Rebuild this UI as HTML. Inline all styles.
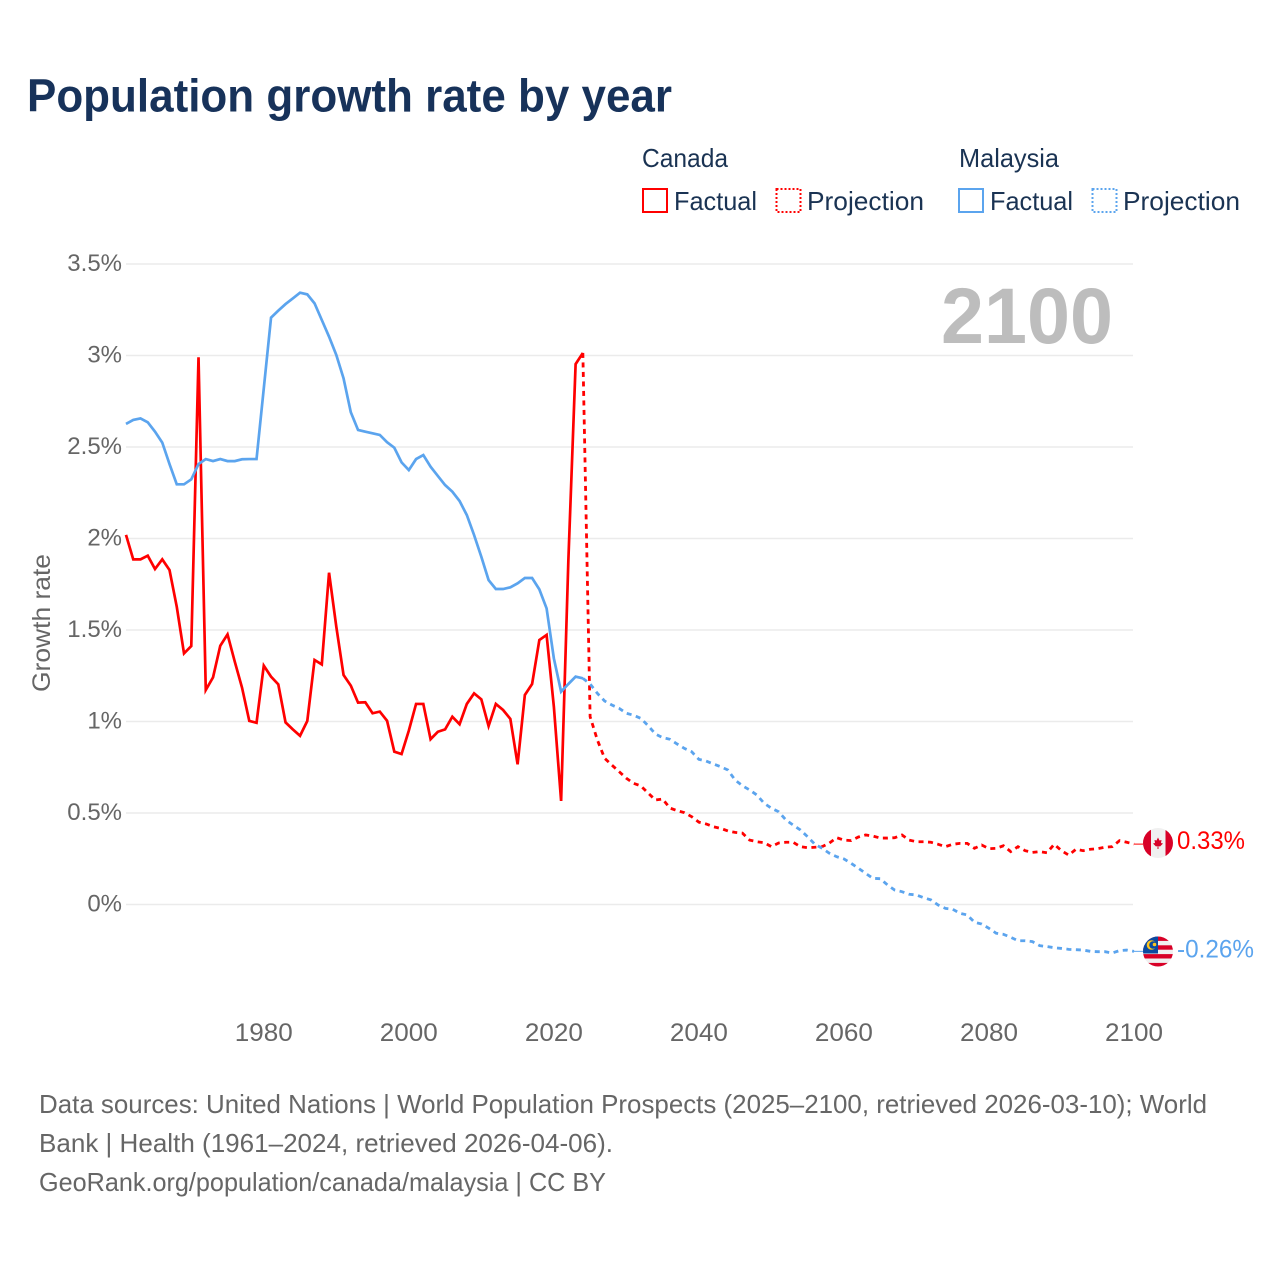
<!DOCTYPE html>
<html lang="en">
<head>
<meta charset="utf-8">
<title>Population growth rate by year</title>
<style>
html,body{margin:0;padding:0;background:#fff;}
svg{display:block;}
text{font-family:"Liberation Sans",sans-serif;}
</style>
</head>
<body>
<svg id="chart" width="1280" height="1280" viewBox="0 0 1280 1280" xmlns="http://www.w3.org/2000/svg">
<defs>
<clipPath id="flag-clip-ca"><circle cx="1158" cy="843" r="15"/></clipPath>
<clipPath id="flag-clip-my"><circle cx="1158" cy="951.500" r="15"/></clipPath>
</defs>
<rect width="1280" height="1280" fill="#fff"/>
<text x="27" y="111.500" font-size="46" font-weight="700" fill="#17325a" textLength="645" lengthAdjust="spacingAndGlyphs">Population growth rate by year</text>

<g font-size="26" fill="#1a3353">
<text x="642" y="167" textLength="86" lengthAdjust="spacingAndGlyphs">Canada</text>
<text x="959" y="167" textLength="100" lengthAdjust="spacingAndGlyphs">Malaysia</text>
<rect x="643" y="189" width="24" height="23" fill="none" stroke="#ff0000" stroke-width="2"/>
<text x="674" y="210" textLength="83" lengthAdjust="spacingAndGlyphs">Factual</text>
<rect x="776.500" y="189" width="24" height="23" fill="none" stroke="#ff0000" stroke-width="2" stroke-dasharray="2 2"/>
<text x="807" y="210" textLength="117" lengthAdjust="spacingAndGlyphs">Projection</text>
<rect x="959" y="189" width="24" height="23" fill="none" stroke="#5ba4ee" stroke-width="2"/>
<text x="990" y="210" textLength="83" lengthAdjust="spacingAndGlyphs">Factual</text>
<rect x="1092.500" y="189" width="24" height="23" fill="none" stroke="#5ba4ee" stroke-width="2" stroke-dasharray="2 2"/>
<text x="1123" y="210" textLength="117" lengthAdjust="spacingAndGlyphs">Projection</text>
</g>

<g id="grid"></g>
<g id="y-ticks"></g>
<g id="x-ticks"></g>
<text x="941" y="343" font-size="79" font-weight="700" fill="#bdbdbd" textLength="172" lengthAdjust="spacingAndGlyphs">2100</text>
<text transform="translate(50 692) rotate(-90)" font-size="25" fill="#666" textLength="138" lengthAdjust="spacingAndGlyphs">Growth rate</text>
<g id="series"></g>

<g clip-path="url(#flag-clip-ca)">
<rect x="1143" y="828" width="30" height="30" fill="#f0f0f0"/>
<rect x="1143" y="828" width="8" height="30" fill="#d80027"/>
<rect x="1165.500" y="828" width="8" height="30" fill="#d80027"/>
<polygon points="1158,837.500 1159.500,840.500 1161.500,840 1161,843 1163,843.500 1160,846.500 1158.500,846 1158.500,849 1157.500,849 1157.500,846 1156,846.500 1153,843.500 1155,843 1154.500,840 1156.500,840.500" fill="#d80027"/>
</g>
<g clip-path="url(#flag-clip-my)">
<rect x="1143" y="936.500" width="30" height="31" fill="#f0f0f0"/>
<rect x="1143" y="936.500" width="30" height="4.400" fill="#d80027"/>
<rect x="1143" y="945.300" width="30" height="4.400" fill="#d80027"/>
<rect x="1143" y="954.100" width="30" height="4.400" fill="#d80027"/>
<rect x="1143" y="962.900" width="30" height="4.600" fill="#d80027"/>
<rect x="1143" y="936.500" width="15" height="17" fill="#0a4aa0"/>
<circle cx="1151.500" cy="945" r="4.800" fill="#ffc61e"/>
<circle cx="1153" cy="945" r="3.800" fill="#0a4aa0"/>
<circle cx="1154.500" cy="944.500" r="1.800" fill="#ffc61e"/>
</g>
<g id="end-labels"></g>

<g font-size="26" fill="#666">
<text x="39" y="1113" textLength="1168" lengthAdjust="spacingAndGlyphs">Data sources: United Nations | World Population Prospects (2025–2100, retrieved 2026-03-10); World</text>
<text x="39" y="1152" textLength="574" lengthAdjust="spacingAndGlyphs">Bank | Health (1961–2024, retrieved 2026-04-06).</text>
<text x="39" y="1191" textLength="567" lengthAdjust="spacingAndGlyphs">GeoRank.org/population/canada/malaysia | CC BY</text>
</g>
</svg>
<script>
const factualStartYear = 1961;
const projectionStartYear = 2024;
const xTickYears = [1980, 2000, 2020, 2040, 2060, 2080, 2100];
const yTickValues = [0, 0.5, 1, 1.5, 2, 2.5, 3, 3.5];
const yTickLabels = ['0%', '0.5%', '1%', '1.5%', '2%', '2.5%', '3%', '3.5%'];
const endLabels = ['0.33%', '-0.26%'];

const canadaFactual = [2.02,1.886,1.886,1.906,1.833,1.886,1.828,1.627,1.372,1.412,2.99,1.172,1.241,1.414,1.476,1.327,1.185,1.003,0.993,1.305,1.245,1.203,0.995,0.957,0.922,1.003,1.336,1.312,1.813,1.518,1.254,1.196,1.103,1.105,1.045,1.054,1.004,0.835,0.822,0.95,1.096,1.096,0.903,0.944,0.957,1.026,0.985,1.096,1.154,1.121,0.975,1.096,1.063,1.014,0.766,1.145,1.205,1.445,1.473,1.081,0.566,1.88,2.953,3.014];
const canadaProjection = [3.014,1.026,0.899,0.799,0.762,0.726,0.69,0.662,0.648,0.609,0.571,0.576,0.527,0.513,0.502,0.48,0.45,0.44,0.425,0.416,0.402,0.394,0.39,0.352,0.343,0.338,0.316,0.336,0.34,0.34,0.316,0.31,0.313,0.316,0.336,0.365,0.352,0.349,0.369,0.38,0.374,0.363,0.363,0.365,0.38,0.352,0.343,0.343,0.34,0.329,0.316,0.329,0.334,0.334,0.307,0.325,0.305,0.307,0.321,0.289,0.316,0.294,0.285,0.289,0.283,0.329,0.294,0.27,0.302,0.294,0.302,0.305,0.313,0.316,0.349,0.34,0.33];
const malaysiaFactual = [2.626,2.648,2.656,2.635,2.584,2.524,2.407,2.296,2.296,2.323,2.407,2.434,2.423,2.434,2.423,2.423,2.433,2.434,2.434,2.82,3.207,3.245,3.281,3.312,3.343,3.334,3.285,3.194,3.103,3.003,2.875,2.69,2.593,2.584,2.575,2.566,2.526,2.496,2.416,2.374,2.434,2.456,2.392,2.342,2.292,2.256,2.205,2.128,2.019,1.9,1.773,1.724,1.724,1.733,1.755,1.784,1.784,1.722,1.618,1.345,1.163,1.205,1.245,1.236];
const malaysiaProjection = [1.236,1.205,1.154,1.112,1.09,1.072,1.045,1.034,1.017,0.977,0.932,0.912,0.903,0.877,0.853,0.835,0.793,0.784,0.768,0.753,0.735,0.68,0.649,0.626,0.598,0.553,0.526,0.507,0.462,0.434,0.407,0.37,0.329,0.307,0.28,0.261,0.249,0.225,0.198,0.17,0.143,0.141,0.107,0.079,0.07,0.056,0.052,0.037,0.025,-0.003,-0.021,-0.026,-0.048,-0.057,-0.097,-0.107,-0.13,-0.157,-0.163,-0.179,-0.198,-0.198,-0.203,-0.225,-0.23,-0.236,-0.24,-0.245,-0.247,-0.249,-0.256,-0.258,-0.258,-0.265,-0.252,-0.249,-0.256];

const SVG_NS = 'http://www.w3.org/2000/svg';
const RED = '#ff0000';
const BLUE = '#5ba4ee';

function xScale(year) {
  return 126 + (year - 1961) * (1134 - 126) / (2100 - 1961);
}
function yScale(value) {
  return 904.5 - value * 183;
}
function makeEl(tag, parentId, attrs) {
  const el = document.createElementNS(SVG_NS, tag);
  Object.keys(attrs).forEach(function (k) { el.setAttribute(k, attrs[k]); });
  document.getElementById(parentId).appendChild(el);
  return el;
}
function linePath(startYear, values) {
  return values.map(function (v, i) {
    return (i ? 'L' : 'M') + xScale(startYear + i).toFixed(2) + ' ' + yScale(v).toFixed(2);
  }).join(' ');
}

yTickValues.forEach(function (v, i) {
  const line = makeEl('line', 'grid', {x1: 126, x2: 1133, y1: yScale(v), y2: yScale(v), stroke: '#ebebeb', 'stroke-width': 1.5});
  
  
  const label = makeEl('text', 'y-ticks', {x: 122, y: yScale(v) + 7, 'text-anchor': 'end', 'font-size': 24, fill: '#666'});
  
  
  label.textContent = yTickLabels[i];
});

xTickYears.forEach(function (year) {
  const label = makeEl('text', 'x-ticks', {x: xScale(year), y: 1041, 'text-anchor': 'middle', 'font-size': 25, fill: '#666', textLength: 58, lengthAdjust: 'spacingAndGlyphs'});
  
  
  label.textContent = year;
});

const canadaProjectionLine = makeEl('path', 'series', {d: linePath(projectionStartYear, canadaProjection), fill: 'none', stroke: RED, 'stroke-width': 2.8, 'stroke-dasharray': '5 4.5'});



const canadaFactualLine = makeEl('path', 'series', {d: linePath(factualStartYear, canadaFactual), fill: 'none', stroke: RED, 'stroke-width': 2.7});



const malaysiaProjectionLine = makeEl('path', 'series', {d: linePath(projectionStartYear, malaysiaProjection), fill: 'none', stroke: BLUE, 'stroke-width': 2.8, 'stroke-dasharray': '5 4.5'});



const malaysiaFactualLine = makeEl('path', 'series', {d: linePath(factualStartYear, malaysiaFactual), fill: 'none', stroke: BLUE, 'stroke-width': 2.7});



const canadaLastY = yScale(canadaProjection[canadaProjection.length - 1]);
const malaysiaLastY = yScale(malaysiaProjection[malaysiaProjection.length - 1]);

const canadaLeader = makeEl('line', 'series', {x1: 1134, x2: 1144, y1: canadaLastY, y2: canadaLastY, stroke: RED, 'stroke-width': 1});



const malaysiaLeader = makeEl('line', 'series', {x1: 1134, x2: 1144, y1: malaysiaLastY, y2: malaysiaLastY, stroke: BLUE, 'stroke-width': 1});



const canadaEnd = makeEl('text', 'end-labels', {x: 1177, y: 849, 'font-size': 25, fill: RED, textLength: 68, lengthAdjust: 'spacingAndGlyphs'});


canadaEnd.textContent = endLabels[0];

const malaysiaEnd = makeEl('text', 'end-labels', {x: 1177, y: 957.5, 'font-size': 25, fill: BLUE, textLength: 77, lengthAdjust: 'spacingAndGlyphs'});


malaysiaEnd.textContent = endLabels[1];
</script>
</body>
</html>
